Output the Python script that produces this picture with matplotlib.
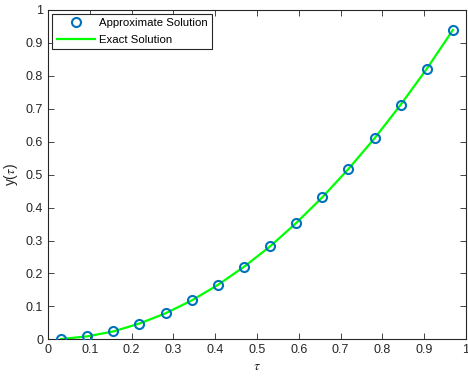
import matplotlib
matplotlib.use("Agg")
import matplotlib.pyplot as plt

plt.rcParams['font.family'] = ['Liberation Sans', 'DejaVu Sans']
plt.rcParams['mathtext.fontset'] = 'stix'

tau = [0.03125, 0.09375, 0.15625, 0.21875, 0.28125, 0.34375, 0.40625, 0.46875,
       0.53125, 0.59375, 0.65625, 0.71875, 0.78125, 0.84375, 0.90625, 0.96875]
y_approx = [0.001, 0.009, 0.024, 0.048, 0.079, 0.118, 0.165, 0.220,
            0.282, 0.353, 0.431, 0.517, 0.610, 0.712, 0.821, 0.939]
y_exact = [0.001, 0.009, 0.024, 0.048, 0.079, 0.118, 0.165, 0.220,
           0.282, 0.353, 0.431, 0.517, 0.610, 0.712, 0.821, 0.939]
xticks = [0, 0.1, 0.2, 0.3, 0.4, 0.5, 0.6, 0.7, 0.8, 0.9, 1]
yticks = [0, 0.1, 0.2, 0.3, 0.4, 0.5, 0.6, 0.7, 0.8, 0.9, 1]

fig = plt.figure(figsize=(4.68, 3.8), dpi=100)
ax = fig.add_axes([0.1026, 0.107, 0.893, 0.867])

ax.plot(tau, y_approx, 'o', mfc='none', mec=(0, 0.447, 0.741), mew=1.5, ms=6.5,
        label='Approximate Solution', zorder=3)
ax.plot(tau, y_exact, '-', color=(0, 1, 0), lw=1.6, label='Exact Solution', zorder=2)

ax.set_xlim(0, 1)
ax.set_ylim(0, 1)
ax.set_xticks(xticks)
ax.set_yticks(yticks)
ax.set_xticklabels([f'{v:g}' for v in xticks])
ax.set_yticklabels([f'{v:g}' for v in yticks])
ax.tick_params(direction='in', top=True, right=True, length=4, width=0.6,
               labelsize=9, colors=(0.15, 0.15, 0.15))
for s in ax.spines.values():
    s.set_color((0.15, 0.15, 0.15))
    s.set_linewidth(0.8)

ax.set_xlabel(r'$\tau$', fontsize=10, color=(0.15, 0.15, 0.15), labelpad=2)
ax.set_ylabel(r'y($\tau$)', fontsize=10, color=(0.15, 0.15, 0.15), labelpad=4)

leg = ax.legend(loc='upper left', fontsize=8.2, frameon=True, fancybox=False,
                edgecolor=(0.15, 0.15, 0.15), framealpha=1, borderpad=0.4,
                handlelength=3.4, handletextpad=0.3, labelspacing=0.55,
                borderaxespad=0.35)
leg.get_frame().set_linewidth(0.8)

fig.savefig('out.png', dpi=100)
